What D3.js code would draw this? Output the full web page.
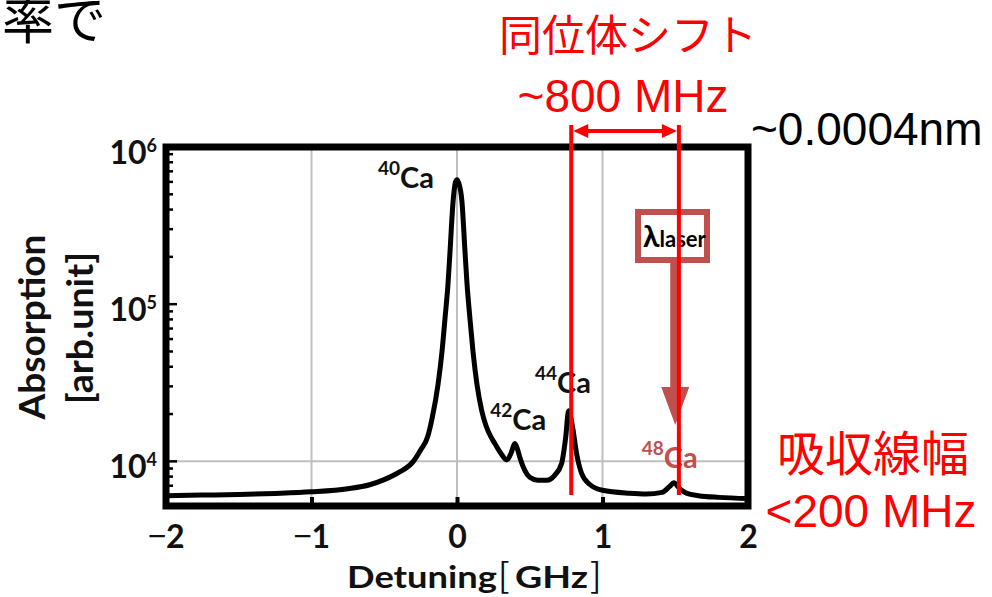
<!DOCTYPE html>
<html>
<head>
<meta charset="utf-8">
<script src="https://cdn.jsdelivr.net/npm/d3@7"></script>
<style>
	body { margin: 0; background: #fff; }
	svg { display: block; }
</style>
</head>
<body>
<div id="chart"></div>
<script>

// Ca absorption spectrum
const detuning = [-2.0, -1.75, -1.5, -1.25, -1.0, -0.75, -0.6, -0.5, -0.4, -0.3, -0.25, -0.2, -0.17, -0.13, -0.103, -0.082, -0.062, -0.048, -0.027, -0.01, 0,
	0.012, 0.034, 0.055, 0.069, 0.089, 0.11, 0.137, 0.17, 0.2, 0.23, 0.26, 0.30, 0.342, 0.372, 0.397, 0.415, 0.432, 0.466, 0.5, 0.555, 0.616, 0.671, 0.719, 0.747,
	0.767, 0.795, 0.822, 0.856, 0.911, 1.0, 1.185, 1.3, 1.41, 1.46, 1.49, 1.53, 1.58, 1.66, 1.8, 2.0];
const absorption = [6050, 6100, 6150, 6250, 6400, 6700, 7100, 7650, 8500, 10000, 11800, 14500, 19000, 31000, 50000, 82000, 134000, 216000, 450000, 600000, 620000,
	590000, 450000, 216000, 134000, 81000, 50000, 31000, 21000, 16800, 14500, 13000, 11300, 10200, 11300, 13000, 12000, 10600, 8770, 7920, 7580, 7580, 8150, 9700, 14200,
	21000, 16400, 11200, 8400, 7150, 6550, 6270, 6200, 6350, 6900, 7300, 6700, 6250, 6050, 5900, 5800];

const xTicks = [-2, -1, 0, 1, 2];
const yDecades = [1e4, 1e5, 1e6];
const xGrid = [-1, 0, 1];
const yGrid = [1e4];

const isotopes = ["40", "42", "44", "48"];
const isotopePeaks = [0, 0.40, 0.77, 1.49];
const shiftLines = [0.785, 1.525];
const laserDetuning = 1.5;

const W = 992, H = 597;
const ink = "#111";
const red = "#ff0000";
const brick = "#c0504d";

const svg = d3.select("#chart").append("svg")
	.attr("width", W)
	.attr("height", H)
	.style("background", "#fff");

const x = d3.scaleLinear().domain([-2, 2]).range([166, 748]);
const y = d3.scaleLog().domain([5200, 1e6]).range([506, 147]);

// clip for the curve
svg.append("clipPath").attr("id", "plotClip")
	.append("rect")
	.attr("x", x(-2)).attr("y", y(1e6))
	.attr("width", x(2) - x(-2)).attr("height", y(5200) - y(1e6));

// grid
svg.selectAll(".vgrid").data(xGrid).join("line")
	.attr("x1", d => x(d)).attr("x2", d => x(d))
	.attr("y1", y(1e6)).attr("y2", y(5200))
	.attr("stroke", "#bfbfbf").attr("stroke-width", 2);
svg.selectAll(".hgrid").data(yGrid).join("line")
	.attr("x1", x(-2)).attr("x2", x(2))
	.attr("y1", d => y(d)).attr("y2", d => y(d))
	.attr("stroke", "#bfbfbf").attr("stroke-width", 2);

// spectrum
const pts = detuning.map((d, i) => [d, absorption[i]]);
const line = d3.line()
	.x(d => x(d[0]))
	.y(d => y(d[1]))
	.curve(d3.curveMonotoneX);

svg.append("path")
	.datum(pts)
	.attr("clip-path", "url(#plotClip)")
	.attr("d", line)
	.attr("fill", "none")
	.attr("stroke", "#000")
	.attr("stroke-width", 5)
	.attr("stroke-linejoin", "round");

// x axis ticks (inside) + labels
const xAxis = d3.axisBottom(x)
	.tickValues(xTicks)
	.tickSizeInner(-9)
	.tickSizeOuter(0)
	.tickPadding(19)
	.tickFormat(d => d);

const gx = svg.append("g")
	.attr("transform", "translate(0," + y(5200) + ")")
	.call(xAxis);
gx.select(".domain").remove();
gx.selectAll(".tick line").attr("stroke", "#000").attr("stroke-width", 4);
gx.selectAll(".tick text")
	.attr("fill", ink)
	.style("font-family", "Lato, sans-serif")
	.style("font-weight", "bold")
	.style("font-size", "32px")
	.each(function(d) {
		const t = d3.select(this).text("");
		if (d < 0) {
			t.append("tspan").text("\u2212").style("font-family", "'Noto Sans CJK JP'").style("font-weight", "normal");
		}
		t.append("tspan").text(Math.abs(d));
	});

// y axis minor/major ticks inside the left frame
const yTicks = y.ticks().filter(v => v > 5200 && v < 1e6);
svg.selectAll(".ytick").data(yTicks).join("line")
	.attr("x1", x(-2))
	.attr("x2", d => yDecades.includes(d) ? x(-2) + 11 : x(-2) + 7)
	.attr("y1", d => y(d)).attr("y2", d => y(d))
	.attr("stroke", "#000").attr("stroke-width", 2.5);

const ylab = svg.selectAll(".ylab").data(yDecades).join("text")
	.attr("x", 157)
	.attr("y", d => y(d) + 17)
	.attr("text-anchor", "end")
	.attr("fill", ink)
	.style("font-family", "Lato, sans-serif")
	.style("font-weight", "bold")
	.style("font-size", "32px");
ylab.append("tspan").text("10");
ylab.append("tspan")
	.attr("dy", -12)
	.style("font-size", "18px")
	.text(d => Math.round(Math.log10(d)));

// frame
svg.append("rect")
	.attr("x", x(-2)).attr("y", y(1e6))
	.attr("width", x(2) - x(-2)).attr("height", y(5200) - y(1e6))
	.attr("fill", "none")
	.attr("stroke", "#000")
	.attr("stroke-width", 7);

// axis titles
svg.append("text")
	.attr("transform", "translate(45,327) rotate(-90)")
	.attr("text-anchor", "middle")
	.attr("fill", ink)
	.style("font-family", "Lato, sans-serif").style("font-weight", "bold").style("font-size", "37px")
	.attr("textLength", 185).attr("lengthAdjust", "spacingAndGlyphs")
	.text("Absorption");
svg.append("text")
	.attr("transform", "translate(93,328) rotate(-90)")
	.attr("text-anchor", "middle")
	.attr("fill", ink)
	.style("font-family", "Lato, sans-serif").style("font-weight", "bold").style("font-size", "36px")
	.attr("textLength", 152).attr("lengthAdjust", "spacingAndGlyphs")
	.text("[arb.unit]");

svg.append("text")
	.attr("x", 347).attr("y", 588)
	.attr("fill", ink)
	.style("font-family", "Lato, sans-serif").style("font-weight", "bold").style("font-size", "31px")
	.attr("textLength", 150).attr("lengthAdjust", "spacingAndGlyphs")
	.text("Detuning");
svg.append("text")
	.attr("x", 498).attr("y", 588)
	.attr("fill", ink)
	.style("font-family", "'Noto Sans CJK JP'").style("font-size", "34px")
	.text("[");
svg.append("text")
	.attr("x", 515).attr("y", 588)
	.attr("fill", ink)
	.style("font-family", "Lato, sans-serif").style("font-weight", "bold").style("font-size", "31px")
	.attr("textLength", 73).attr("lengthAdjust", "spacingAndGlyphs")
	.text("GHz");
svg.append("text")
	.attr("x", 590).attr("y", 588)
	.attr("fill", ink)
	.style("font-family", "'Noto Sans CJK JP'").style("font-size", "34px")
	.text("]");

// isotope labels
const isoLabelPos = [
	{ dx: -79, y: 188 },
	{ dx: -25, y: 430 },
	{ dx: -34, y: 393 },
	{ dx: -32, y: 468 }
];
const iso = svg.selectAll(".iso").data(isotopes).join("text")
	.attr("x", (d, i) => x(isotopePeaks[i]) + isoLabelPos[i].dx)
	.attr("y", (d, i) => isoLabelPos[i].y)
	.attr("fill", (d, i) => i === 3 ? brick : ink)
	.style("font-family", "Lato, sans-serif")
	.style("font-weight", "bold")
	.style("font-size", "29px");
iso.append("tspan").attr("dy", -13).style("font-size", "19px").text(d => d);
iso.append("tspan").attr("dy", 13).text("Ca");

// laser marker: box + arrow
const lx = x(laserDetuning);
svg.append("rect")
	.attr("x", 638).attr("y", 212).attr("width", 69).attr("height", 48)
	.attr("fill", "#fff").attr("stroke", brick).attr("stroke-width", 6);
svg.append("rect")
	.attr("x", lx - 5).attr("y", 263).attr("width", 10).attr("height", 126)
	.attr("fill", brick);
svg.append("path")
	.attr("d", `M${lx - 14},387 L${lx + 14},387 L${lx},425 Z`)
	.attr("fill", brick);
const lam = svg.append("text")
	.attr("x", 643).attr("y", 247)
	.attr("fill", "#000")
	.style("font-family", "Lato, 'DejaVu Sans', sans-serif")
	.style("font-weight", "bold");
lam.append("tspan").style("font-size", "30px").text("λ");
lam.append("tspan").style("font-size", "22px").text("laser");

// isotope-shift markers
svg.selectAll(".shift").data(shiftLines).join("line")
	.attr("x1", d => x(d)).attr("x2", d => x(d))
	.attr("y1", 125).attr("y2", 495)
	.attr("stroke", red).attr("stroke-width", 4);

const ay = 131, x0 = x(shiftLines[0]) + 2, x1 = x(shiftLines[1]) - 2;
svg.append("line")
	.attr("x1", x0 + 12).attr("x2", x1 - 12)
	.attr("y1", ay).attr("y2", ay)
	.attr("stroke", red).attr("stroke-width", 4);
svg.append("path")
	.attr("d", `M${x0},${ay} L${x0 + 15},${ay - 7} L${x0 + 15},${ay + 7} Z M${x1},${ay} L${x1 - 15},${ay - 7} L${x1 - 15},${ay + 7} Z`)
	.attr("fill", red);

// annotation texts
svg.append("text")
	.attr("x", 2).attr("y", 39)
	.attr("fill", "#000")
	.style("font-family", "'Noto Sans CJK JP'").style("font-size", "52px")
	.text("率で");

svg.append("text")
	.attr("x", 628).attr("y", 51)
	.attr("text-anchor", "middle")
	.attr("fill", red)
	.style("font-family", "'Noto Sans CJK JP'").style("font-size", "43px")
	.text("同位体シフト");

svg.append("text")
	.attr("x", 623).attr("y", 112)
	.attr("text-anchor", "middle")
	.attr("fill", red)
	.style("font-family", "'Liberation Sans', Arial, sans-serif").style("font-size", "46px")
	.text("~800 MHz");

svg.append("text")
	.attr("x", 751).attr("y", 145)
	.attr("fill", "#000")
	.style("font-family", "'Liberation Sans', Arial, sans-serif").style("font-size", "46px")
	.text("~0.0004nm");

svg.append("text")
	.attr("x", 873).attr("y", 471)
	.attr("text-anchor", "middle")
	.attr("fill", red)
	.style("font-family", "'Noto Sans CJK JP'").style("font-size", "48px")
	.text("吸収線幅");

svg.append("text")
	.attr("x", 871).attr("y", 527)
	.attr("text-anchor", "middle")
	.attr("fill", red)
	.style("font-family", "'Liberation Sans', Arial, sans-serif").style("font-size", "46px")
	.text("<200 MHz");

</script>
</body>
</html>
